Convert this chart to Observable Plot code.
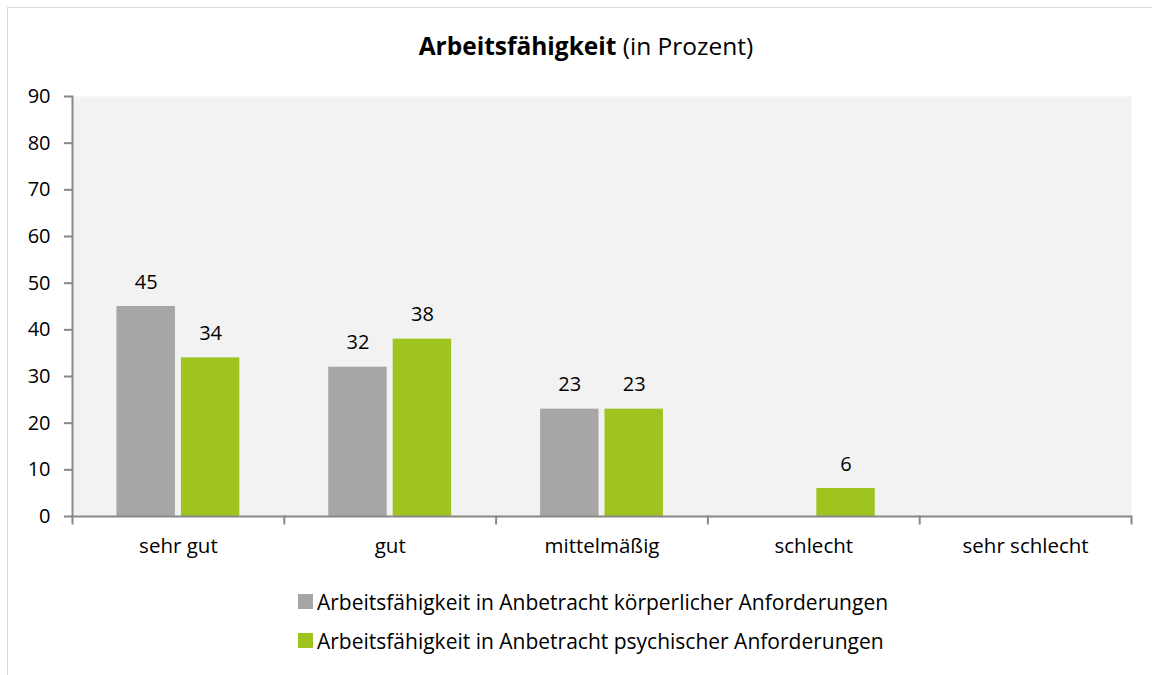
<!DOCTYPE html>
<html>
<head>
<meta charset="utf-8">
<script src="https://cdn.jsdelivr.net/npm/d3@7"></script>
<script src="https://cdn.jsdelivr.net/npm/@observablehq/plot@0.6"></script>
<style>
  html, body { margin: 0; padding: 0; background: #fff; overflow: hidden; }
  body { width: 1152px; height: 675px; position: relative; font-family: "Open Sans", sans-serif; color: #000; }
  #border { position: absolute; left: 7px; top: 7px; width: 1170px; height: 700px; border: 1px solid #D9D9D9; box-sizing: border-box; }
  #title { position: absolute; left: 8px; top: 31px; width: 1156px; text-align: center; font-size: 24.5px; line-height: 30px; }
  #chart { position: absolute; left: 0; top: 80px; }
  #legend { position: absolute; left: 298px; top: 582px; font-size: 21px; }
  .row { display: flex; align-items: center; height: 39px; }
  .sw { width: 15px; height: 15px; margin-right: 4px; }
</style>
</head>
<body>
<div id="border"></div>
<div id="title"><b>Arbeitsfähigkeit</b> (in Prozent)</div>
<div id="chart"></div>
<div id="legend"></div>
<script>
const categories = ["sehr gut", "gut", "mittelmäßig", "schlecht", "sehr schlecht"];
const seriesNames = [
  "Arbeitsfähigkeit in Anbetracht körperlicher Anforderungen",
  "Arbeitsfähigkeit in Anbetracht psychischer Anforderungen"
];
const koerperlich = [45, 32, 23, null, null];
const psychisch = [34, 38, 23, 6, null];
const seriesColors = ["#A6A6A6", "#9FC420"];
const yTicks = [0, 10, 20, 30, 40, 50, 60, 70, 80, 90];

const seriesValues = [koerperlich, psychisch];
const rows = [];
categories.forEach((c, i) => {
  seriesNames.forEach((s, j) => {
    rows.push({category: c, series: s, value: seriesValues[j][i]});
  });
});
const labelled = rows.filter(d => d.value != null);

const axisGray = "#888888";

const chart = Plot.plot({
  width: 1152,
  height: 480,
  marginLeft: 72,
  marginRight: 21,
  marginTop: 16,
  marginBottom: 44,
  style: {fontFamily: "'Open Sans', sans-serif", fontSize: "20px", color: "#000", background: "transparent"},
  fx: {domain: categories, padding: 0, round: false, label: null},
  x: {domain: seriesNames, paddingInner: 0.093, paddingOuter: 0.69, round: false, axis: null},
  y: {domain: [0, 90], label: null},
  color: {domain: seriesNames, range: seriesColors},
  marks: [
    Plot.frame({fill: "#F2F2F2", stroke: null}),
    Plot.barY(rows, {fx: "category", x: "series", y: "value", fill: "series"}),
    Plot.text(labelled, {fx: "category", x: "series", y: "value", text: d => String(d.value), lineAnchor: "bottom", dy: -18, fontSize: 20, fill: "#000"}),
    Plot.ruleY([0], {stroke: axisGray, strokeWidth: 2}),
    Plot.frame({anchor: "left", facetAnchor: "left", stroke: axisGray, strokeWidth: 2}),
    Plot.frame({anchor: "left", insetTop: 420, insetBottom: -7, stroke: axisGray, strokeWidth: 2}),
    Plot.frame({anchor: "right", facetAnchor: "right", insetTop: 420, insetBottom: -7, stroke: axisGray, strokeWidth: 2}),
    Plot.axisY({ticks: yTicks, tickSize: 8, tickPadding: 14, stroke: axisGray, strokeWidth: 2, label: null, fontSize: 20}),
    Plot.axisFx({anchor: "bottom", tickSize: 0, tickPadding: 22, label: null, fontSize: 20.5})
  ]
});
document.getElementById("chart").appendChild(chart);

const legend = document.getElementById("legend");
seriesNames.forEach((s, j) => {
  const row = document.createElement("div");
  row.className = "row";
  const sw = document.createElement("div");
  sw.className = "sw";
  sw.style.background = seriesColors[j];
  const t = document.createElement("span");
  t.textContent = s;
  row.appendChild(sw);
  row.appendChild(t);
  legend.appendChild(row);
});
</script>
</body>
</html>
